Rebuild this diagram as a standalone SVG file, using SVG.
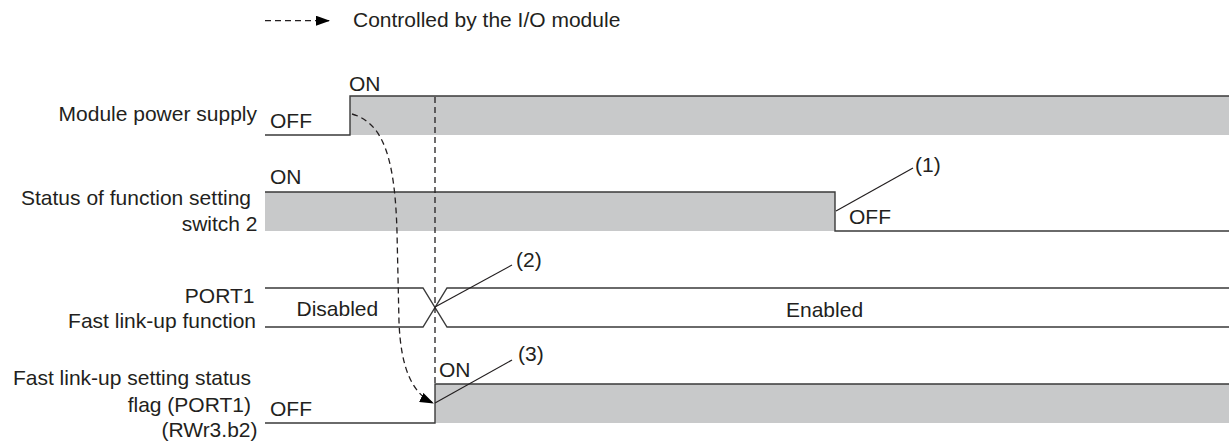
<svg xmlns="http://www.w3.org/2000/svg" width="1229" height="444" viewBox="0 0 1229 444">
<style>
text{font-family:"Liberation Sans",Arial,sans-serif;font-size:21px;fill:#231f20}
.end{text-anchor:end}
.sig{fill:none;stroke:#3a3a3a;stroke-width:1.4}
.fill{fill:#c8c9ca;stroke:none}
.dash{fill:none;stroke:#231f20;stroke-width:1.3;stroke-dasharray:6 4}
.lead{fill:none;stroke:#231f20;stroke-width:1.2}
</style>
<defs>
<marker id="ah" markerWidth="14" markerHeight="10" refX="13" refY="5" orient="auto" markerUnits="userSpaceOnUse">
<path d="M0,0 L14,5 L0,10 Z" fill="#000"/>
</marker>
</defs>
<rect width="1229" height="444" fill="#fff"/>
<g id="legend">
<path class="dash" d="M265,20.7 H329" marker-end="url(#ah)"/>
<text x="353" y="27">Controlled by the I/O module</text>
</g>
<g id="power">
<text class="end" x="257" y="121">Module power supply</text>
<rect class="fill" x="350" y="96" width="879" height="39"/>
<path class="sig" d="M265,135 H350 V96 H1229"/>
<text x="270" y="128">OFF</text>
<text x="349" y="91">ON</text>
</g>
<g id="switch2">
<text class="end" x="251" y="205">Status of function setting</text>
<text class="end" x="257.5" y="230.7">switch 2</text>
<rect class="fill" x="265" y="192" width="570" height="39"/>
<path class="sig" d="M265,192 H835 V231 H1229"/>
<text x="270" y="184">ON</text>
<text x="849" y="224">OFF</text>
</g>
<g id="fastlink">
<text class="end" x="254.5" y="303">PORT1</text>
<text class="end" x="256" y="327.5">Fast link-up function</text>
<path class="sig" d="M265,288 H423 L447,327 H1229 M265,327 H423 L447,288 H1229"/>
<text x="296.5" y="316">Disabled</text>
<text x="786" y="317">Enabled</text>
</g>
<g id="flag">
<text class="end" x="251" y="385">Fast link-up setting status</text>
<text class="end" x="251" y="411.5">flag (PORT1)</text>
<text class="end" x="257.5" y="436.5">(RWr3.b2)</text>
<rect class="fill" x="435" y="384" width="794" height="39"/>
<path class="sig" d="M265,423 H435 V384 H1229"/>
<text x="270" y="416">OFF</text>
<text x="439" y="377">ON</text>
</g>
<g id="connectors">
<path class="dash" d="M435,97 V384"/>
<path class="dash" d="M352,114 C384,123 395,160 397,232 L399,322 C401,372 414,394 433,403" marker-end="url(#ah)"/>
<path class="lead" d="M836,211 L913,168"/>
<path class="lead" d="M435,307 L512,265"/>
<path class="lead" d="M435,403 L512,360"/>
<text x="915" y="172">(1)</text>
<text x="516" y="267">(2)</text>
<text x="518" y="361">(3)</text>
</g>
</svg>
